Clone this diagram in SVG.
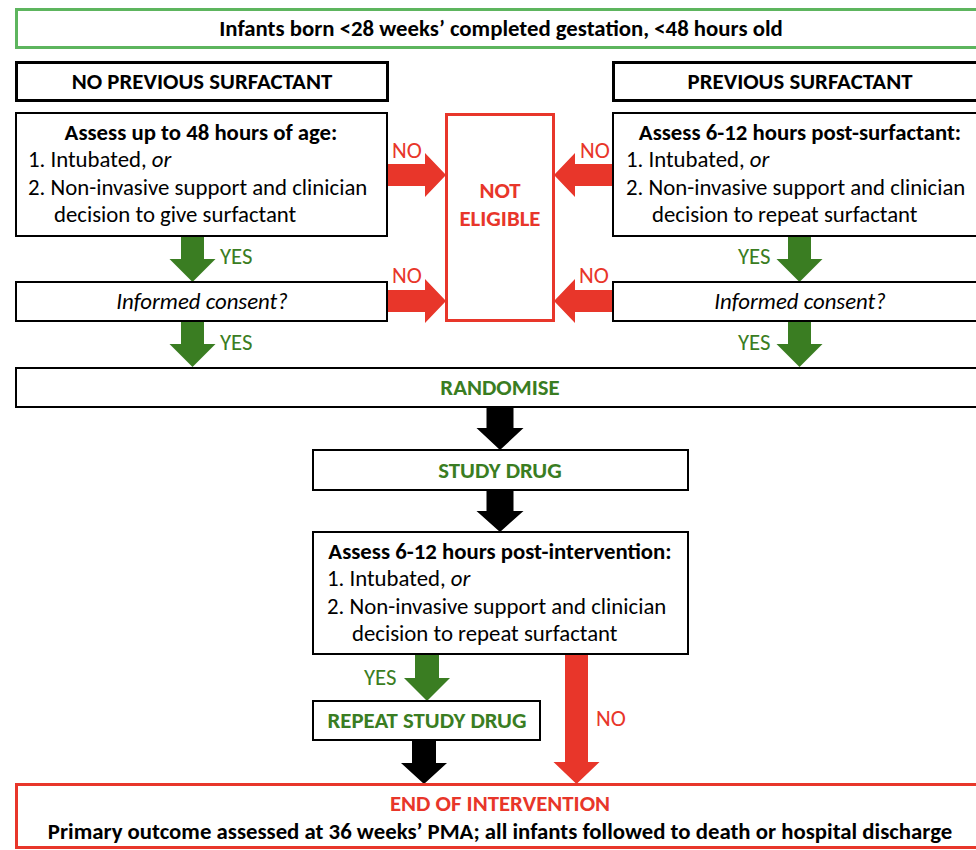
<svg xmlns="http://www.w3.org/2000/svg" width="976" height="850" viewBox="0 0 976 850">
<style>
text{font-family:Carlito,Lato,"Open Sans",sans-serif;fill:#000;font-size:22.8px}
.b{font-weight:bold}
.h{font-weight:bold}
.c{text-anchor:middle}
.i{font-style:italic}
.g{fill:#3a7d22}
.r{fill:#e8362a}
.box{fill:#fff;stroke:#000;stroke-width:2}
.boxk{fill:#fff;stroke:#000;stroke-width:3}
.ag{fill:#3a7d22}
.ar{fill:#e8362a}
.ak{fill:#000}
</style>
<rect width="976" height="850" fill="#fff"/>
<g id="connectors">
  <polygon class="ag" points="181,237 204,237 204,259 215.5,259 192.5,282 169.5,259 181,259"/>
  <polygon class="ag" points="181,321 204,321 204,344 215.5,344 192.5,367 169.5,344 181,344"/>
  <polygon class="ag" points="788,237 811,237 811,259 822.5,259 799.5,282 776.5,259 788,259"/>
  <polygon class="ag" points="788,321 811,321 811,344 822.5,344 799.5,367 776.5,344 788,344"/>
  <polygon class="ak" points="486.5,407 513.5,407 513.5,428 523.5,428 500,450 476.5,428 486.5,428"/>
  <polygon class="ak" points="486.5,490 513.5,490 513.5,511 523.5,511 500,532 476.5,511 486.5,511"/>
  <polygon class="ag" points="415,654 439,654 439,678 450,678 427,701 404,678 415,678"/>
  <polygon class="ak" points="412,740 436,740 436,763 447,763 424,784 401,763 412,763"/>
  <polygon class="ar" points="565,654 588,654 588,762 599.5,762 576.5,784 553.5,762 565,762"/>
  <polygon class="ar" points="387,164 425,164 425,153 446,175 425,197 425,186 387,186"/>
  <polygon class="ar" points="387,290 425,290 425,279 446,301 425,323 425,312 387,312"/>
  <polygon class="ar" points="613,164 575,164 575,153 554,175 575,197 575,186 613,186"/>
  <polygon class="ar" points="613,290 575,290 575,279 554,301 575,323 575,312 613,312"/>
  <text class="r" x="392" y="158">NO</text>
  <text class="r" x="580" y="158">NO</text>
  <text class="r" x="392" y="283">NO</text>
  <text class="r" x="579" y="283">NO</text>
  <text class="g" x="220" y="264">YES</text>
  <text class="g" x="220" y="350">YES</text>
  <text class="g" x="738" y="264">YES</text>
  <text class="g" x="738" y="350">YES</text>
  <text class="g" x="364" y="685">YES</text>
  <text class="r" x="596" y="726">NO</text>
</g>
<g id="population">
  <rect x="16.5" y="9.5" width="970" height="38" fill="#fff" stroke="#5db55e" stroke-width="3"/>
  <text class="h c" x="501" y="36">Infants born &lt;28 weeks’ completed gestation, &lt;48 hours old</text>
</g>
<g id="no-previous">
  <rect class="boxk" x="16.5" y="62.5" width="371" height="38"/>
  <text class="h c" x="202" y="89">NO PREVIOUS SURFACTANT</text>
</g>
<g id="previous">
  <rect class="boxk" x="613.5" y="62.5" width="370" height="38"/>
  <text class="h c" x="800" y="89">PREVIOUS SURFACTANT</text>
</g>
<g id="assess-left">
  <rect class="box" x="16" y="113" width="371" height="123"/>
  <text class="b c" x="201" y="140">Assess up to 48 hours of age:</text>
  <text x="28" y="167">1. Intubated, <tspan class="i">or</tspan></text>
  <text x="28" y="195">2. Non-invasive support and clinician</text>
  <text x="54" y="222">decision to give surfactant</text>
</g>
<g id="assess-right">
  <rect class="box" x="613" y="113" width="370" height="123"/>
  <text class="b c" x="800" y="140">Assess 6-12 hours post-surfactant:</text>
  <text x="626" y="167">1. Intubated, <tspan class="i">or</tspan></text>
  <text x="626" y="195">2. Non-invasive support and clinician</text>
  <text x="652" y="222">decision to repeat surfactant</text>
</g>
<g id="not-eligible">
  <rect x="446.5" y="114.5" width="107" height="206" fill="#fff" stroke="#e8362a" stroke-width="3"/>
  <text class="h c r" x="500" y="198">NOT</text>
  <text class="h c r" x="500" y="226">ELIGIBLE</text>
</g>
<g id="consent-left">
  <rect class="box" x="16" y="282" width="371" height="39"/>
  <text class="i c" x="202" y="309">Informed consent?</text>
</g>
<g id="consent-right">
  <rect class="box" x="613" y="282" width="370" height="39"/>
  <text class="i c" x="800" y="309">Informed consent?</text>
</g>
<g id="randomise">
  <rect class="box" x="16" y="368" width="970" height="39"/>
  <text class="h c g" x="500" y="395">RANDOMISE</text>
</g>
<g id="study-drug">
  <rect class="box" x="313" y="450" width="375" height="40"/>
  <text class="h c g" x="500" y="478">STUDY DRUG</text>
</g>
<g id="assess-post">
  <rect class="box" x="313" y="532" width="375" height="122"/>
  <text class="b c" x="500" y="559">Assess 6-12 hours post-intervention:</text>
  <text x="327" y="586">1. Intubated, <tspan class="i">or</tspan></text>
  <text x="327" y="614">2. Non-invasive support and clinician</text>
  <text x="352" y="641">decision to repeat surfactant</text>
</g>
<g id="repeat-drug">
  <rect class="box" x="313" y="701" width="227" height="39"/>
  <text class="h c g" x="427" y="728">REPEAT STUDY DRUG</text>
</g>
<g id="end">
  <rect x="16.5" y="784.5" width="970" height="63" fill="#fff" stroke="#e8362a" stroke-width="3"/>
  <text class="h c r" x="500" y="811">END OF INTERVENTION</text>
  <text class="h c" x="500" y="839">Primary outcome assessed at 36 weeks’ PMA; all infants followed to death or hospital discharge</text>
</g>
</svg>
